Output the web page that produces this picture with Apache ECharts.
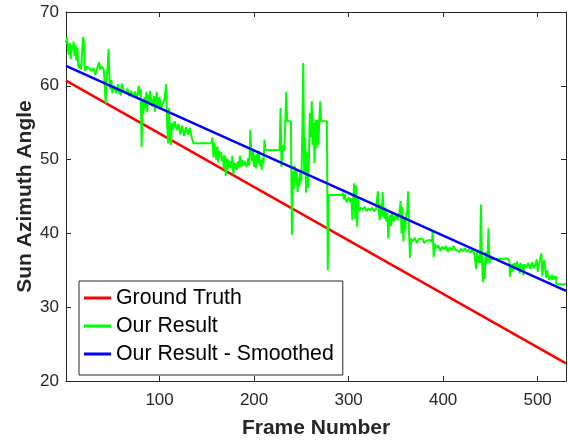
<!DOCTYPE html>
<html>
<head>
<meta charset="utf-8">
<script src="https://cdn.jsdelivr.net/npm/echarts@6/dist/echarts.min.js"></script>
<style>html,body{margin:0;padding:0;background:#fff;}#c{width:568px;height:445px;}</style>
</head>
<body>
<div id="c"></div>
<script>
const xTicks = [100, 200, 300, 400, 500];
const yTicks = [20, 30, 40, 50, 60, 70];
const seriesNames = ['Ground Truth', 'Our Result', 'Our Result - Smoothed'];

const truthFrames = [1, 530];
const truthValues = [60.7, 22.4];

const smoothFrames = [1, 530];
const smoothValues = [62.7, 32.2];

const greenFrames = [1,2,3,4,5,6,7,8,9,10,11,12,13,14,15,16,17,18,19,20,21,22,23,24,26,28,30,32,34,36,37,39,41,42,43,44,45,46,47,48,49,50,52,54,56,57,59,60,62,64,66,68,70,72,74,76,78,79,80,81,82,83,84,85,86,87,88,89,90,92,94,95,97,98,100,101,103,105,107,108,109,110,111,112,113,114,116,118,120,122,124,126,128,130,132,134,136,155,156,157,158,159,160,161,162,163,164,165,166,167,168,169,170,171,172,173,174,175,176,177,178,179,180,181,182,183,184,185,186,187,188,190,192,194,195,196,197,198,199,200,201,202,203,204,205,206,207,208,209,210,211,212,227,228,229,230,231,232,233,234,235,239,240,241,242,243,244,245,246,247,248,249,250,251,252,253,254,255,256,257,258,259,260,261,262,263,264,265,266,267,268,269,270,271,277,278,279,293,294,295,296,297,298,300,302,303,304,305,306,307,308,309,310,311,313,315,317,319,321,323,325,327,329,331,332,333,334,335,336,337,338,339,340,341,342,343,344,345,346,348,350,352,354,355,356,357,358,359,360,361,362,363,364,365,366,368,370,372,374,376,378,380,382,384,386,388,389,390,391,393,395,397,399,401,403,405,407,409,411,413,415,417,419,421,423,425,427,429,431,433,435,436,437,438,439,440,441,442,443,444,445,446,447,448,449,450,451,452,468,469,470,471,472,473,474,475,476,477,478,479,480,481,482,483,484,485,486,488,490,492,494,496,498,499,500,501,503,504,505,506,507,508,509,510,511,512,513,514,515,516,517,518,519,520,530];
const greenValues = [65.8,66.6,65.0,64.2,65.8,63.6,65.5,64.8,66.0,64.0,65.6,63.4,65.2,62.8,62.4,63.0,62.2,62.4,66.6,66.0,62.0,61.8,62.6,62.4,62.3,62.0,62.4,61.5,62.4,63.2,62.2,62.6,62.2,62.0,57.6,61.0,62.5,65.0,61.0,59.5,60.8,59.0,60.0,59.0,60.2,59.2,58.7,60.3,59.4,59.0,59.6,58.6,59.3,58.5,59.2,58.3,60.0,58.8,59.6,51.7,58.0,56.2,58.5,57.0,59.2,56.5,58.8,57.5,59.3,57.2,58.6,56.5,59.2,57.0,58.5,56.8,57.5,58.0,60.2,55.0,52.2,57.0,53.5,52.0,55.0,54.0,55.2,54.0,54.8,53.4,54.6,53.2,54.4,53.4,54.3,53.0,52.2,52.2,53.0,50.3,52.3,51.0,50.0,51.8,49.6,51.2,50.4,51.0,49.8,50.5,48.8,50.6,47.8,50.2,48.6,50.0,49.0,49.8,48.8,50.5,48.0,49.6,48.8,49.5,48.6,49.8,48.9,50.5,49.0,50.0,49.2,49.8,49.0,50.2,49.2,54.0,51.0,49.8,51.5,49.0,50.5,48.8,50.8,49.6,51.2,49.2,50.0,48.6,50.2,49.5,52.7,51.3,51.3,57.0,49.0,51.0,52.0,51.2,55.0,59.2,55.2,55.2,39.8,48.4,46.0,49.2,47.0,48.5,45.6,47.5,46.4,48.5,47.0,53.5,63.1,48.0,53.0,45.5,51.0,46.2,49.8,56.3,53.0,57.9,52.0,55.0,49.5,55.4,51.5,55.4,52.0,55.3,57.9,55.2,55.2,35.0,45.2,45.2,45.5,44.6,45.3,44.6,44.2,44.9,44.2,44.8,41.8,45.0,46.8,42.0,46.5,40.9,44.8,43.0,43.5,43.2,43.6,43.0,43.4,43.1,43.5,43.0,43.3,45.7,43.0,41.8,44.0,42.2,45.6,43.0,42.0,43.5,41.6,42.8,39.3,41.5,42.5,41.0,42.8,41.6,42.6,41.8,43.0,44.4,40.0,43.6,38.9,42.0,40.5,42.5,43.0,45.7,40.0,36.7,39.3,38.9,39.4,38.7,39.2,39.0,39.3,38.7,39.0,38.8,39.1,38.8,40.2,36.8,38.6,38.0,38.4,37.6,38.2,37.8,38.3,37.5,38.1,37.7,38.3,37.8,38.0,37.5,37.9,37.6,38.0,37.5,37.8,37.4,37.8,37.3,35.2,37.6,36.0,37.0,36.0,43.9,37.0,33.4,36.0,33.8,37.5,35.8,37.0,40.7,35.9,37.0,36.5,36.6,36.6,36.5,36.3,34.1,35.8,34.8,35.9,35.0,36.0,35.2,36.2,35.4,35.8,34.6,36.0,35.1,35.8,34.3,35.8,35.4,36.0,35.2,36.1,35.3,35.9,36.5,34.8,35.6,35.4,37.3,34.2,35.5,36.4,36.5,34.0,35.0,34.3,33.7,34.2,33.8,34.4,33.7,34.2,33.8,34.2,33.1,33.1];

const FONT = '"Liberation Sans", Arial, Helvetica, sans-serif';
const AXIS_COLOR = '#262626';

function pairs(xs, ys) { return xs.map((x, i) => [x, ys[i]]); }

const chart = echarts.init(document.getElementById('c'), null, {renderer: 'canvas'});
const xBase = {
  type: 'value', min: 1, max: 530,
  axisLine: {show: true, lineStyle: {color: AXIS_COLOR, width: 1}},
  splitLine: {show: false}
};
const yBase = {
  type: 'value', min: 20, max: 70, interval: 10,
  axisLine: {show: true, lineStyle: {color: AXIS_COLOR, width: 1}},
  splitLine: {show: false}
};
chart.setOption({
  animation: false,
  backgroundColor: '#fff',
  grid: {left: 66, right: 2, top: 12, bottom: 64, containLabel: false},
  xAxis: [
    Object.assign({}, xBase, {
      position: 'bottom',
      name: 'Frame Number', nameLocation: 'middle', nameGap: 37, nameMoveOverlap: false,
      nameTextStyle: {fontFamily: FONT, fontSize: 21, fontWeight: 'bold', color: AXIS_COLOR},
      axisTick: {show: true, inside: true, length: 5, customValues: xTicks, lineStyle: {color: AXIS_COLOR}},
      axisLabel: {show: true, customValues: xTicks, fontFamily: FONT, fontSize: 17, color: AXIS_COLOR, margin: 11}
    }),
    Object.assign({}, xBase, {
      position: 'top',
      axisTick: {show: true, inside: true, length: 5, customValues: xTicks, lineStyle: {color: AXIS_COLOR}},
      axisLabel: {show: false}
    })
  ],
  yAxis: [
    Object.assign({}, yBase, {
      position: 'left',
      name: 'Sun Azimuth Angle', nameLocation: 'middle', nameGap: 30, nameRotate: 90, nameMoveOverlap: false,
      nameTextStyle: {fontFamily: FONT, fontSize: 21, fontWeight: 'bold', color: AXIS_COLOR},
      axisTick: {show: true, inside: true, length: 5, lineStyle: {color: AXIS_COLOR}},
      axisLabel: {show: true, fontFamily: FONT, fontSize: 17, color: AXIS_COLOR, margin: 7,
        customValues: yTicks}
    }),
    Object.assign({}, yBase, {
      position: 'right',
      axisTick: {show: true, inside: true, length: 5, lineStyle: {color: AXIS_COLOR}},
      axisLabel: {show: false}
    })
  ],
  legend: {
    orient: 'vertical', left: 79, top: 281,
    data: seriesNames,
    icon: 'rect',
    itemWidth: 27, itemHeight: 3, itemGap: 6,
    padding: [6, 9, 10, 5],
    borderColor: AXIS_COLOR, borderWidth: 1, backgroundColor: '#fff',
    textStyle: {fontFamily: FONT, fontSize: 21.3, lineHeight: 22, color: '#000'}
  },
  series: [
    {name: seriesNames[0], type: 'line', data: pairs(truthFrames, truthValues), symbol: 'none',
      lineStyle: {color: '#ff0000', width: 2.5}, itemStyle: {color: '#ff0000'}, z: 2},
    {name: seriesNames[1], type: 'line', data: pairs(greenFrames, greenValues), symbol: 'none',
      lineStyle: {color: '#00ff00', width: 2}, itemStyle: {color: '#00ff00'}, z: 3},
    {name: seriesNames[2], type: 'line', data: pairs(smoothFrames, smoothValues), symbol: 'none',
      lineStyle: {color: '#0000ff', width: 2.5}, itemStyle: {color: '#0000ff'}, z: 4}
  ]
});
</script>
</body>
</html>
